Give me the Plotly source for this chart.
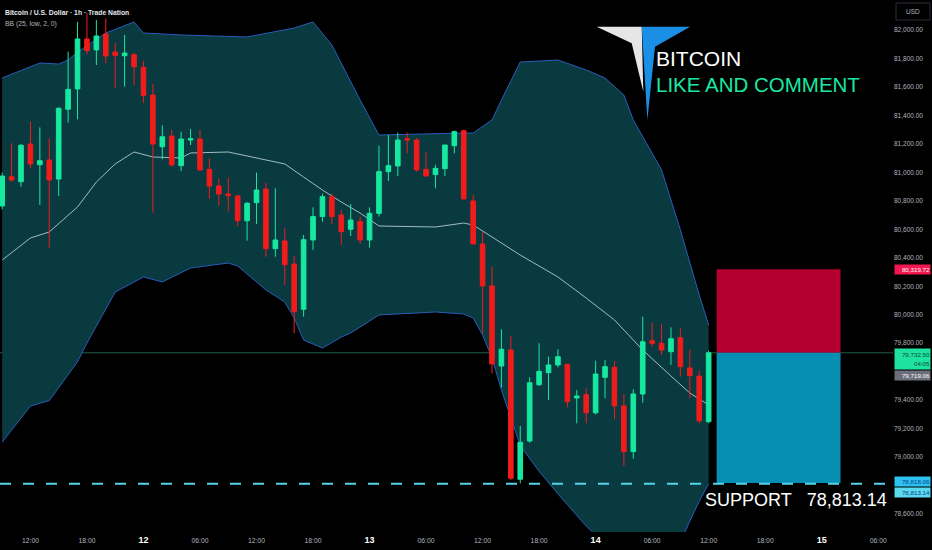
import pandas as pd
import plotly.graph_objects as go

# ---------------- data ----------------
times = pd.date_range("2025-03-11 09:00", periods=76, freq="h")

open_ = [80764, 80969, 80934, 81199, 81054, 81087, 80953, 81443, 81586, 81937,
         81860, 81972, 81845, 81819, 81826, 81738, 81543, 81180, 81255, 81047,
         81227, 81234, 81021, 80904, 80848, 80834, 80660, 80787, 80883, 80464,
         80518, 80356, 80038, 80525, 80689, 80829, 80700, 80600, 80656, 80525,
         80712, 81005, 81045, 81236, 81227, 81021, 80984, 81026, 81187, 81293,
         80799, 80497, 80202, 79640, 79752, 78844, 79113, 79508, 79593, 79647,
         79652, 79415, 79438, 79311, 79560, 79630, 79359, 79038, 79443, 79817,
         79799, 79740, 79838, 79626, 79569, 79248]
high = [80998, 81204, 81200, 81356, 81316, 81239, 81457, 81848, 82058, 82120,
        82070, 82082, 81907, 81965, 81840, 81784, 81621, 81330, 81298, 81286,
        81305, 81298, 81099, 80955, 80962, 80840, 80790, 80998, 80927, 80888,
        80607, 80412, 80560, 80754, 80850, 80850, 80735, 80778, 80689, 80754,
        81187, 81262, 81279, 81279, 81240, 81145, 81052, 81192, 81293, 81300,
        80841, 80583, 80337, 79897, 79850, 79218, 79560, 79799, 79705, 79757,
        79652, 79471, 79483, 79677, 79682, 79675, 79443, 79476, 79986, 79944,
        79935, 79911, 79904, 79752, 79607, 79747]
low = [80740, 80935, 80899, 81028, 80771, 80471, 80834, 81349, 81373, 81830,
       81754, 81766, 81590, 81602, 81614, 81489, 80717, 81092, 81040, 81009,
       81192, 81010, 80815, 80764, 80724, 80623, 80520, 80637, 80407, 80407,
       80209, 79869, 79986, 80455, 80653, 80637, 80490, 80553, 80497, 80471,
       80689, 80939, 80974, 81134, 81005, 80974, 80888, 80974, 81134, 80813,
       80497, 79869, 79588, 79490, 78839, 78815, 79100, 79499, 79401, 79630,
       79349, 79237, 79237, 79300, 79413, 79265, 78937, 78988, 79382, 79775,
       79717, 79647, 79565, 79413, 79237, 79237]
close = [80974, 80946, 81190, 81059, 81082, 80946, 81450, 81583, 81937, 81855,
         81958, 81817, 81822, 81838, 81742, 81541, 81199, 81250, 81052, 81234,
         81236, 81017, 80904, 80848, 80836, 80660, 80783, 80876, 80464, 80525,
         80351, 80021, 80527, 80689, 80829, 80689, 80583, 80665, 80525, 80712,
         81005, 81047, 81227, 81227, 81017, 80974, 81028, 81192, 81286, 80813,
         80497, 80202, 79654, 79757, 78851, 79104, 79522, 79602, 79647, 79705,
         79389, 79429, 79311, 79583, 79635, 79359, 79038, 79443, 79810, 79799,
         79752, 79831, 79635, 79572, 79255, 79732.5]

# Bollinger band (25, low, 2) values read at selected candles (index into times)
bb_upper_idx = [0, 4, 6, 7, 8, 11, 14, 15, 19, 26, 31, 33, 35, 38, 40, 49, 50, 52,
                53, 55, 59, 62, 64, 66, 67, 70, 72, 74, 75]
bb_upper = [81663, 81768, 81761, 81789, 81845, 81979, 82056, 81979, 81965, 81951,
            82014, 82056, 81895, 81508, 81262, 81276, 81276, 81368, 81508, 81775,
            81789, 81719, 81663, 81543, 81368, 81017, 80595, 80138, 79928]
bb_mid_idx = [0, 3, 5, 8, 10, 12, 14, 16, 19, 20, 24, 28, 30, 32, 34, 36, 38, 40,
              46, 49, 50, 52, 55, 59, 62, 65, 68, 71, 73, 75]
bb_mid = [80384, 80539, 80581, 80757, 80932, 81059, 81143, 81108, 81101, 81136,
          81143, 81087, 81059, 80967, 80876, 80792, 80714, 80623, 80616, 80644,
          80630, 80546, 80419, 80265, 80117, 79963, 79752, 79569, 79450, 79366]
bb_lower_idx = [0, 3, 5, 8, 9, 12, 15, 17, 20, 24, 25, 28, 30, 31, 32, 34, 36, 37,
                40, 46, 49, 50, 51, 52, 53, 55, 57, 59, 62, 65, 68, 71, 73, 74, 75]
bb_lower = [79105, 79358, 79397, 79669, 79801, 80159, 80265, 80230, 80328, 80363,
            80342, 80174, 80089, 79977, 79822, 79766, 79843, 79871, 79998, 80019,
            80005, 79977, 79857, 79696, 79471, 79080, 78900, 78741, 78515, 78330,
            78300, 78250, 78550, 78690, 78811]

last_price = 79732.50
prev_close = 79719.06
stop_level = 80319.72
target_level = 78818.06
support_level = 78813.14
countdown = "04:05"

# price-scale labels (79,600 and 78,800 are hidden behind the price tags)
y_ticks = [78600, 79000, 79200, 79400, 79800, 80000, 80200, 80400, 80600, 80800,
           81000, 81200, 81400, 81600, 81800, 82000]
x_tick_hours = list(range(-12, 79, 6))
x_tick_text = ["12:00", "18:00", "12", "06:00", "12:00", "18:00", "13", "06:00",
               "12:00", "18:00", "14", "06:00", "12:00", "18:00", "15", "06:00"]

# ---------------- layout constants ----------------
W, H = 932, 550
MR, MB = 39, 18
PW, PH = W - MR, H - MB
GREEN = "#17e8a0"
RED = "#f01c1c"
BAND_FILL = "#083a40"
BAND_LINE = "#2b5cb8"
MID_LINE = "#a4bcc4"
FONT = "Liberation Sans, Arial, sans-serif"


def px(x, y):
    """pixel position inside plot area -> paper coords"""
    return x / PW, 1 - y / PH


def tstr(t):
    return t.strftime("%Y-%m-%d_%H:%M:%S")


def data_path(xs, ys, close_path=False):
    s = " ".join(("M" if i == 0 else "L") + f"{tstr(x)},{y}" for i, (x, y) in enumerate(zip(xs, ys)))
    return s + (" Z" if close_path else "")


day0 = pd.Timestamp("2025-03-12 00:00")
x_range = [day0 + pd.Timedelta(hours=-15.23), day0 + pd.Timedelta(hours=79.57)]
y_range = [78473.5, 82210.7]

fig = go.Figure()

ux = [times[i] for i in bb_upper_idx]
lx = [times[i] for i in bb_lower_idx]
mx = [times[i] for i in bb_mid_idx]

# band (drawn below candles)
fig.add_shape(type="path", layer="below",
              path=data_path(ux + lx[::-1], bb_upper + bb_lower[::-1], True),
              fillcolor=BAND_FILL, line=dict(width=0))
fig.add_shape(type="path", layer="below", path=data_path(ux, bb_upper),
              line=dict(color=BAND_LINE, width=1))
fig.add_shape(type="path", layer="below", path=data_path(lx, bb_lower),
              line=dict(color=BAND_LINE, width=1))
fig.add_shape(type="path", layer="below", path=data_path(mx, bb_mid),
              line=dict(color=MID_LINE, width=1))

# position tool boxes
box_x0 = day0 + pd.Timedelta(hours=60.85)
box_x1 = day0 + pd.Timedelta(hours=74.0)
fig.add_shape(type="rect", x0=box_x0, x1=box_x1, y0=last_price, y1=stop_level,
              fillcolor="#b3002f", line=dict(width=0), layer="below")
fig.add_shape(type="rect", x0=box_x0, x1=box_x1, y0=target_level, y1=last_price,
              fillcolor="#078fb3", line=dict(width=0), layer="below")

fig.add_trace(go.Candlestick(
    x=times, open=open_, high=high, low=low, close=close,
    increasing=dict(line=dict(color=GREEN, width=1), fillcolor=GREEN),
    decreasing=dict(line=dict(color=RED, width=1), fillcolor=RED),
    whiskerwidth=0, showlegend=False, hoverinfo="skip"))

# last price line
fig.add_shape(type="line", xref="paper", x0=0, x1=1, y0=last_price, y1=last_price,
              line=dict(color="#1e5c48", width=1), layer="below")
# support dashed line
fig.add_shape(type="line", xref="paper", x0=0, x1=1, y0=support_level, y1=support_level,
              line=dict(color="#55d3e8", width=2, dash="11px,12px"))

# logo
wx = [(596.7, 26.7), (641.7, 26.7), (643.3, 91.7), (631.7, 43.3)]
bx = [(641.7, 26.7), (690.0, 26.7), (655.0, 46.7), (647.3, 120.0)]


def path(pts):
    s = ""
    for i, (x, y) in enumerate(pts):
        X, Y = px(x, y)
        s += ("M" if i == 0 else "L") + f"{X:.4f},{Y:.4f} "
    return s + "Z"


fig.add_shape(type="path", xref="paper", yref="paper", path=path(wx),
              fillcolor="#e6e6e6", line=dict(width=0))
fig.add_shape(type="path", xref="paper", yref="paper", path=path(bx),
              fillcolor="#1b8fe6", line=dict(width=0))

ann = []
# title
ann.append(dict(xref="paper", yref="paper", x=px(3, 0)[0], y=px(0, 12.5)[1], xanchor="left",
                yanchor="middle", showarrow=False,
                text="<b>Bitcoin / U.S. Dollar · 1h · Trade Nation</b>",
                font=dict(family=FONT, size=6.8, color="#e6e8ee")))
ann.append(dict(xref="paper", yref="paper", x=px(3, 0)[0], y=px(0, 24)[1], xanchor="left",
                yanchor="middle", showarrow=False, text="BB (25, low, 2, 0)",
                font=dict(family=FONT, size=6.8, color="#b2b5be")))
# logo text
ann.append(dict(xref="paper", yref="paper", x=px(654, 0)[0], y=px(0, 58)[1], xanchor="left",
                yanchor="middle", showarrow=False, text="BITCOIN",
                font=dict(family=FONT, size=21, color="#ffffff")))
ann.append(dict(xref="paper", yref="paper", x=px(654, 0)[0], y=px(0, 84)[1], xanchor="left",
                yanchor="middle", showarrow=False, text="LIKE AND COMMENT",
                font=dict(family=FONT, size=20.5, color="#19e8a2")))
# support text
ann.append(dict(xref="paper", yref="paper", x=px(703, 0)[0], y=px(0, 500)[1], xanchor="left",
                yanchor="middle", showarrow=False,
                text=f"SUPPORT&nbsp;&nbsp; {support_level:,.2f}",
                font=dict(family=FONT, size=18, color="#ffffff")))


def price_label(y, text, bg, fg, yshift=0, h=9):
    return dict(xref="paper", yref="y", x=1, y=y, xanchor="left", yanchor="middle",
                xshift=1, yshift=yshift, showarrow=False, text=text, bgcolor=bg,
                width=35, height=h, align="right", borderpad=0,
                font=dict(family=FONT, size=6.2, color=fg))


ann.append(price_label(stop_level, f"{stop_level:,.2f}", "#f0184f", "#ffffff"))
ann.append(price_label(last_price, f"{last_price:,.2f}<br>{countdown}", "#20e2a0", "#0b4a35",
                       yshift=-6, h=20))
ann.append(price_label(prev_close, f"{prev_close:,.2f}", "#6c6f7a", "#ffffff", yshift=-21))
ann.append(price_label(target_level, f"{target_level:,.2f}", "#2ec3ef", "#0b3a8c", yshift=1))
ann.append(price_label(support_level, f"{support_level:,.2f}", "#5ad8ee", "#0b3a8c",
                       yshift=-9))
# USD button
ann.append(dict(xref="paper", yref="paper", x=(913) / PW, y=px(0, 11.5)[1],
                xanchor="center", yanchor="middle", showarrow=False, text="USD",
                font=dict(family=FONT, size=6.5, color="#b2b5be")))
fig.add_shape(type="rect", xref="paper", yref="paper", x0=896 / PW, x1=930 / PW,
              y0=px(0, 20)[1], y1=px(0, 3)[1], line=dict(color="#2a2e39", width=1),
              fillcolor="rgba(0,0,0,0)")

tickvals = [day0 + pd.Timedelta(hours=h) for h in x_tick_hours]
ticktext = [f"<b><span style='font-size:9px;color:#ffffff'>{t}</span></b>" if ":" not in t
            else t for t in x_tick_text]

fig.update_layout(
    width=W, height=H, margin=dict(l=0, r=MR, t=0, b=MB, pad=0),
    paper_bgcolor="#000000", plot_bgcolor="#000000",
    annotations=ann, showlegend=False,
    font=dict(family=FONT, color="#b2b5be"),
    xaxis=dict(type="date", range=x_range, tickvals=tickvals, ticktext=ticktext,
               showgrid=False, zeroline=False, showline=False, ticks="",
               ticklabelstandoff=3,
               tickfont=dict(size=6.8, color="#b2b5be"), rangeslider=dict(visible=False),
               fixedrange=True),
    yaxis=dict(side="right", range=y_range, tickvals=y_ticks,
               ticktext=[f"{v:,.2f}" for v in y_ticks], showgrid=False, zeroline=False,
               showline=False, ticks="", tickfont=dict(size=6.5, color="#b2b5be"),
               fixedrange=True),
)

fig.write_html("out.html", config={"displayModeBar": False},
               post_script="document.body.style.margin='0';")
